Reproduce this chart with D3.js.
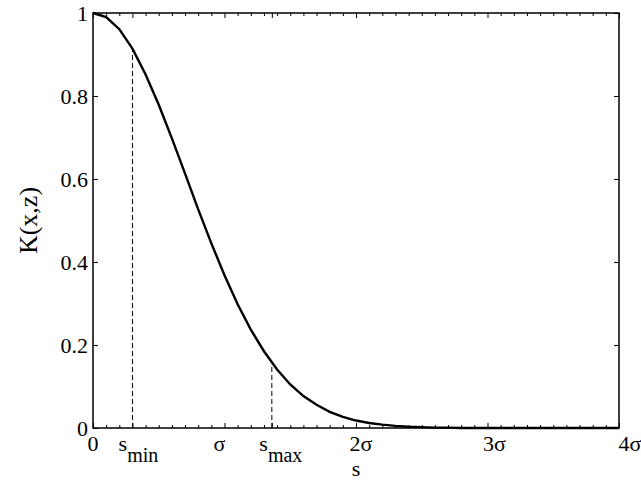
<!DOCTYPE html>
<html>
<head>
<meta charset="utf-8">
<script src="https://d3js.org/d3.v7.min.js"></script>
<style>
  body { margin: 0; background: #fff; }
  text { font-family: "Liberation Serif", "Times New Roman", serif; fill: #000; }
</style>
</head>
<body>
<div id="chart"></div>
<script>
sValues = [0, 0.1, 0.2, 0.3, 0.4, 0.5, 0.6, 0.7, 0.8, 0.9,
           1.0, 1.1, 1.2, 1.3, 1.4, 1.5, 1.6, 1.7, 1.8, 1.9,
           2.0, 2.1, 2.2, 2.3, 2.4, 2.5, 2.6, 2.7, 2.8, 2.9,
           3.0, 3.1, 3.2, 3.3, 3.4, 3.5, 3.6, 3.7, 3.8, 3.9, 4.0]
kValues = [1.000, 0.990, 0.961, 0.914, 0.852, 0.779, 0.698, 0.613, 0.527, 0.445,
           0.368, 0.298, 0.237, 0.185, 0.141, 0.105, 0.077, 0.056, 0.039, 0.027,
           0.018, 0.012, 0.008, 0.005, 0.003, 0.002, 0.001, 0.001, 0, 0,
           0, 0, 0, 0, 0, 0, 0, 0, 0, 0, 0]

// dashed markers
markerS = [0.30, 1.36]
markerK = [0.914, 0.150]

// x ticks and labels (base + subscript)
xTicks = [0, 0.30, 1, 1.36, 2, 3, 4]
xTickBase = ['0', 's', 'σ', 's', '2σ', '3σ', '4σ']
xTickSub = ['', 'min', '', 'max', '', '', '']
yTicks = [0, 0.2, 0.4, 0.6, 0.8, 1]
yTickLabels = ['0', '0.2', '0.4', '0.6', '0.8', '1']

width = 641
height = 483
// note: "top" is taken by window.top, so plot edges get their own names
plotL = 93, plotR = 619, plotT = 13, plotB = 428

svg = d3.select('#chart')
  .append('svg')
  .attr('width', width)
  .attr('height', height)

xScale = d3.scaleLinear().domain([0, 4]).range([plotL, plotR])
yScale = d3.scaleLinear().domain([0, 1]).range([plotB, plotT])

minorTicks = sValues.filter(d => !xTicks.includes(d))

// minor x ticks, bottom and top
svg.append('g')
  .attr('transform', `translate(0 ${plotB})`)
  .call(d3.axisBottom(xScale).tickValues(minorTicks).tickSize(-3).tickFormat(''))
svg.append('g')
  .attr('transform', `translate(0 ${plotT})`)
  .call(d3.axisTop(xScale).tickValues(minorTicks).tickSize(-3).tickFormat(''))

// major x ticks
svg.append('g')
  .attr('transform', `translate(0 ${plotB})`)
  .call(d3.axisBottom(xScale).tickValues(xTicks).tickSize(-5).tickFormat(''))
svg.append('g')
  .attr('transform', `translate(0 ${plotT})`)
  .call(d3.axisTop(xScale).tickValues(xTicks).tickSize(-5).tickFormat(''))

// y ticks left and right
svg.append('g')
  .attr('class', 'yaxis')
  .attr('transform', `translate(${plotL} 0)`)
  .call(d3.axisLeft(yScale).tickValues(yTicks).tickSize(-5).tickPadding(5)
    .tickFormat((d, i) => yTickLabels[i]))
svg.append('g')
  .attr('transform', `translate(${plotR} 0)`)
  .call(d3.axisRight(yScale).tickValues(yTicks).tickSize(-5).tickFormat(''))

svg.selectAll('.domain').remove()
svg.selectAll('.tick line').attr('stroke', '#000').attr('stroke-width', 1)
svg.selectAll('.yaxis text')
  .attr('font-size', '22px')
  .attr('font-family', '"Liberation Serif", serif')
  .attr('fill', '#000')

// box
svg.append('rect')
  .attr('x', plotL)
  .attr('y', plotT)
  .attr('width', plotR - plotL)
  .attr('height', plotB - plotT)
  .attr('fill', 'none')
  .attr('stroke', '#000')
  .attr('stroke-width', 1.5)

// x tick labels
labelShift = [0, 6, -5, 9, 5, 7, 11]
xLabels = svg.append('g')
  .selectAll('text')
  .data(xTicks)
  .join('text')
  .attr('x', (d, i) => xScale(d) + labelShift[i])
  .attr('y', 451)
  .attr('text-anchor', 'middle')
  .attr('font-size', '22px')
xLabels.append('tspan').text((d, i) => xTickBase[i])
xLabels.append('tspan')
  .attr('dy', 11)
  .attr('font-size', '20px')
  .text((d, i) => xTickSub[i])

// dashed markers
svg.append('g')
  .selectAll('line')
  .data(markerS)
  .join('line')
  .attr('x1', d => xScale(d))
  .attr('x2', d => xScale(d))
  .attr('y1', yScale(0))
  .attr('y2', (d, i) => yScale(markerK[i]))
  .attr('stroke', '#000')
  .attr('stroke-width', 1)
  .attr('stroke-dasharray', '5,3')

// curve
line = d3.line()
  .x((d, i) => xScale(sValues[i]))
  .y(d => yScale(d))

svg.append('path')
  .datum(kValues)
  .attr('d', line)
  .attr('fill', 'none')
  .attr('stroke', '#000')
  .attr('stroke-width', 2.4)

// axis titles
svg.append('text')
  .attr('x', (plotL + plotR) / 2)
  .attr('y', 476)
  .attr('text-anchor', 'middle')
  .attr('font-size', '22px')
  .text('s')

svg.append('text')
  .attr('transform', `translate(37 ${(plotT + plotB) / 2}) rotate(-90)`)
  .attr('text-anchor', 'middle')
  .attr('font-size', '26px')
  .text('K(x,z)')
</script>
</body>
</html>
